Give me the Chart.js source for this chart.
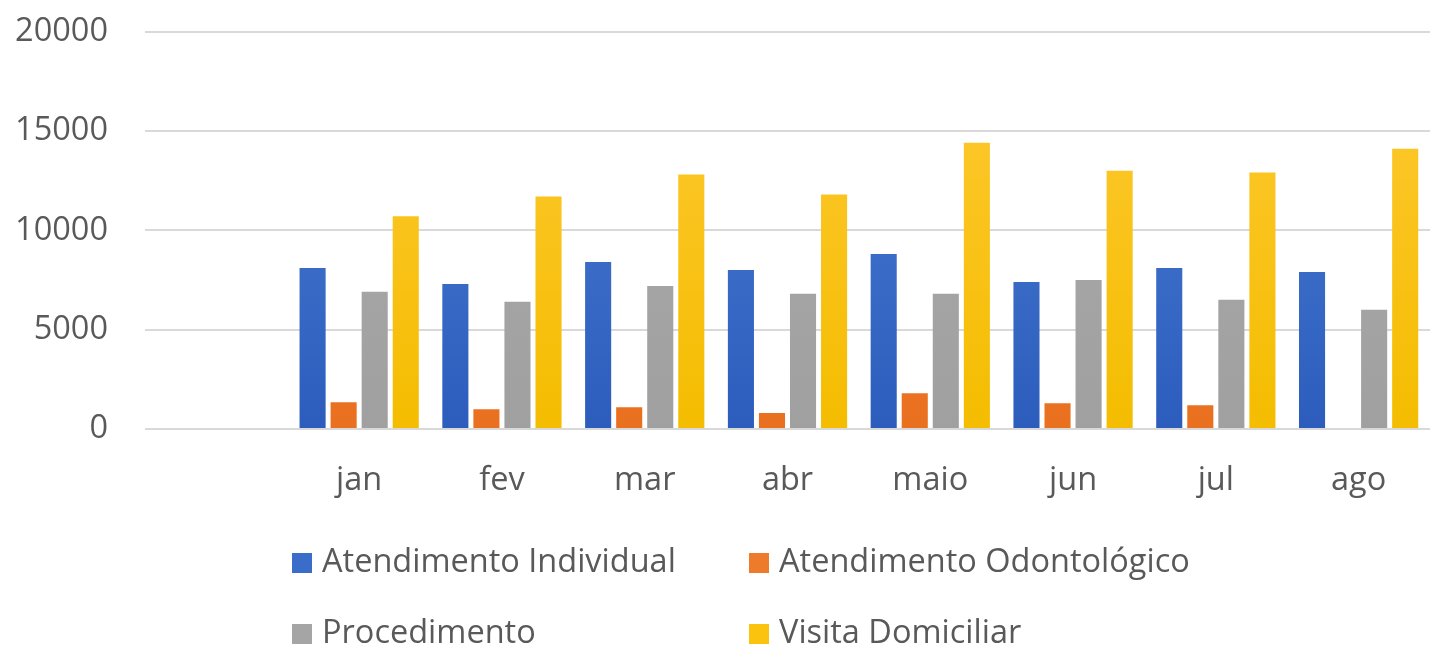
<!DOCTYPE html>
<html>
<head>
<meta charset="utf-8">
<script src="https://cdn.jsdelivr.net/npm/chart.js@4.4.1/dist/chart.umd.min.js"></script>
<style>
    html, body { margin: 0; padding: 0; background: #fff; }
    #wrap { position: relative; width: 1430px; height: 646px; overflow: hidden; }
    /* canvas pushed up a little: the axis label padding eats room above the top gridline */
    #chart { position: absolute; left: 0; top: -25px; }
    .legend-item {
        position: absolute;
        font-family: 'Open Sans', sans-serif;
        font-size: 32.5px;
        color: #595959;
        line-height: 40px;
        white-space: nowrap;
    }
    .legend-box {
        display: inline-block;
        width: 20px;
        height: 20px;
        margin-right: 10px;
        vertical-align: -1px;
    }
</style>
</head>
<body>
<div id="wrap">
    <canvas id="chart" width="1430" height="671"></canvas>
    <div id="legend"></div>
</div>
<script>
// first category is empty in the original sheet
var months = ['', 'jan', 'fev', 'mar', 'abr', 'maio', 'jun', 'jul', 'ago'];
var atendimentoIndividual = [null, 8100, 7300, 8400, 8000, 8800, 7400, 8100, 7900];
var atendimentoOdontologico = [null, 1350, 1000, 1100, 800, 1800, 1300, 1200, 0];
var procedimento = [null, 6900, 6400, 7200, 6800, 6800, 7500, 6500, 6000];
var visitaDomiciliar = [null, 10700, 11700, 12800, 11800, 14400, 13000, 12900, 14100];
var yTicks = [0, 5000, 10000, 15000, 20000];

var seriesNames = ['Atendimento Individual', 'Atendimento Odontológico', 'Procedimento', 'Visita Domiciliar'];
var seriesColors = ['#3a6cc9', '#ee7a2c', '#a5a5a5', '#fbc20e'];
var gradientStops = [
    ['#4c7fd4', '#2c5dbd'],
    ['#f2823a', '#e9701f'],
    ['#ababab', '#a0a0a0'],
    ['#ffc935', '#f4bd00']
];

function barFill(index) {
    return function(context) {
        var area = context.chart.chartArea;
        if (!area) return seriesColors[index];
        var g = context.chart.ctx.createLinearGradient(0, area.top, 0, area.bottom);
        g.addColorStop(0, gradientStops[index][0]);
        g.addColorStop(1, gradientStops[index][1]);
        return g;
    };
}

var allSeries = [atendimentoIndividual, atendimentoOdontologico, procedimento, visitaDomiciliar];
var datasets = allSeries.map(function(values, i) {
    return {
        label: seriesNames[i],
        data: values,
        backgroundColor: barFill(i),
        borderWidth: 0,
        categoryPercentage: 0.87,
        barPercentage: 0.84
    };
});

var tickFont = { family: "'Open Sans', sans-serif", size: 32.5 };

new Chart(document.getElementById('chart'), {
    type: 'bar',
    data: { labels: months, datasets: datasets },
    options: {
        responsive: false,
        animation: false,
        layout: { padding: { top: 7, right: 0, left: 0, bottom: 0 } },
        plugins: {
            legend: { display: false },
            tooltip: { enabled: false }
        },
        scales: {
            x: {
                grid: { display: false, drawTicks: false },
                border: { display: false },
                ticks: { color: '#595959', font: tickFont, padding: 32, maxRotation: 0, autoSkip: false },
                afterFit: function(scale) { scale.height = 217; }
            },
            y: {
                min: 0,
                max: 20000,
                afterBuildTicks: function(scale) {
                    scale.ticks = yTicks.map(function(v) { return { value: v }; });
                },
                grid: { color: '#d9d9d9', lineWidth: 2, drawTicks: false },
                border: { display: false },
                ticks: {
                    color: '#595959',
                    font: tickFont,
                    padding: 37,
                    callback: function(value) { return String(value); }
                },
                afterFit: function(scale) { scale.width = 145; }
            }
        }
    }
});

// legend laid out in two columns, as in the source sheet
var legendSlots = [
    { left: 292, top: 540 },
    { left: 749, top: 540 },
    { left: 292, top: 611 },
    { left: 749, top: 611 }
];
var legend = document.getElementById('legend');
seriesNames.forEach(function(name, i) {
    var item = document.createElement('div');
    item.className = 'legend-item';
    item.style.left = legendSlots[i].left + 'px';
    item.style.top = legendSlots[i].top + 'px';
    var box = document.createElement('span');
    box.className = 'legend-box';
    box.style.background = seriesColors[i];
    item.appendChild(box);
    item.appendChild(document.createTextNode(name));
    legend.appendChild(item);
});
</script>
</body>
</html>
